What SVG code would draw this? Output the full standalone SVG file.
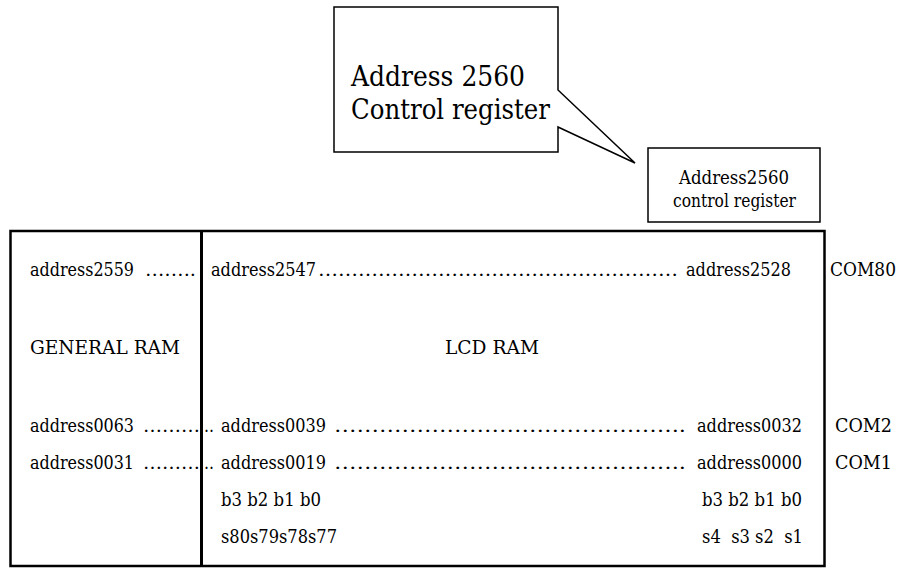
<svg xmlns="http://www.w3.org/2000/svg" width="901" height="568" viewBox="0 0 901 568">
<style>
text{font-family:'DejaVu Serif','Liberation Serif',serif;fill:#000;font-size:18px}
.big{font-size:27px}
.box{fill:#fff;stroke:#000}
</style>
<rect width="901" height="568" fill="#fff"/>
<g id="callout">
<path class="box" stroke-width="1.5" d="M334,7 H558 V90 L635,163 L558,127 V152 H334 Z"/>
<text class="big" x="351" y="86" textLength="174" lengthAdjust="spacingAndGlyphs">Address 2560</text>
<text class="big" x="351" y="119" textLength="199" lengthAdjust="spacingAndGlyphs">Control register</text>
</g>
<g id="control-register">
<rect class="box" stroke-width="1.5" x="648" y="148" width="172" height="74"/>
<text x="679" y="184" textLength="110" lengthAdjust="spacingAndGlyphs">Address2560</text>
<text x="673" y="207" textLength="123" lengthAdjust="spacingAndGlyphs">control register</text>
</g>
<g id="memory-map">
<rect x="10.5" y="231" width="814" height="335" fill="none" stroke="#000" stroke-width="2.5"/>
<line x1="201.5" y1="231" x2="201.5" y2="566" stroke="#000" stroke-width="3"/>
</g>
<g id="general-ram">
<text x="30" y="276" textLength="104" lengthAdjust="spacingAndGlyphs">address2559</text>
<text x="145" y="276" textLength="51" lengthAdjust="spacingAndGlyphs">……..</text>
<text x="30" y="354" textLength="150" lengthAdjust="spacingAndGlyphs">GENERAL RAM</text>
<text x="30" y="432" textLength="104" lengthAdjust="spacingAndGlyphs">address0063</text>
<text x="143" y="432" textLength="57" lengthAdjust="spacingAndGlyphs">………</text>
<text x="30" y="469" textLength="104" lengthAdjust="spacingAndGlyphs">address0031</text>
<text x="143" y="469" textLength="57" lengthAdjust="spacingAndGlyphs">………</text>
</g>
<g id="lcd-ram">
<text x="211" y="276" textLength="105" lengthAdjust="spacingAndGlyphs">address2547</text>
<text x="318" y="276" textLength="360" lengthAdjust="spacingAndGlyphs">………………………………………………</text>
<text x="686" y="276" textLength="105" lengthAdjust="spacingAndGlyphs">address2528</text>
<text x="445" y="354" textLength="94" lengthAdjust="spacingAndGlyphs">LCD RAM</text>
<text x="204" y="432" textLength="10" lengthAdjust="spacingAndGlyphs">..</text>
<text x="221" y="432" textLength="105" lengthAdjust="spacingAndGlyphs">address0039</text>
<text x="334" y="432" textLength="352" lengthAdjust="spacingAndGlyphs">………………………………………..</text>
<text x="697" y="432" textLength="105" lengthAdjust="spacingAndGlyphs">address0032</text>
<text x="204" y="469" textLength="10" lengthAdjust="spacingAndGlyphs">..</text>
<text x="221" y="469" textLength="105" lengthAdjust="spacingAndGlyphs">address0019</text>
<text x="334" y="469" textLength="352" lengthAdjust="spacingAndGlyphs">………………………………………..</text>
<text x="697" y="469" textLength="105" lengthAdjust="spacingAndGlyphs">address0000</text>
<text x="221" y="506" xml:space="preserve" textLength="100" lengthAdjust="spacingAndGlyphs">b3 b2 b1 b0</text>
<text x="702" y="506" xml:space="preserve" textLength="100" lengthAdjust="spacingAndGlyphs">b3 b2 b1 b0</text>
<text x="221" y="543" textLength="116" lengthAdjust="spacingAndGlyphs">s80s79s78s77</text>
<text x="702" y="543" xml:space="preserve" textLength="101" lengthAdjust="spacingAndGlyphs">s4  s3 s2  s1</text>
</g>
<g id="com-labels">
<text x="830" y="276" textLength="66" lengthAdjust="spacingAndGlyphs">COM80</text>
<text x="835" y="432" textLength="57" lengthAdjust="spacingAndGlyphs">COM2</text>
<text x="835" y="469" textLength="57" lengthAdjust="spacingAndGlyphs">COM1</text>
</g>
</svg>
